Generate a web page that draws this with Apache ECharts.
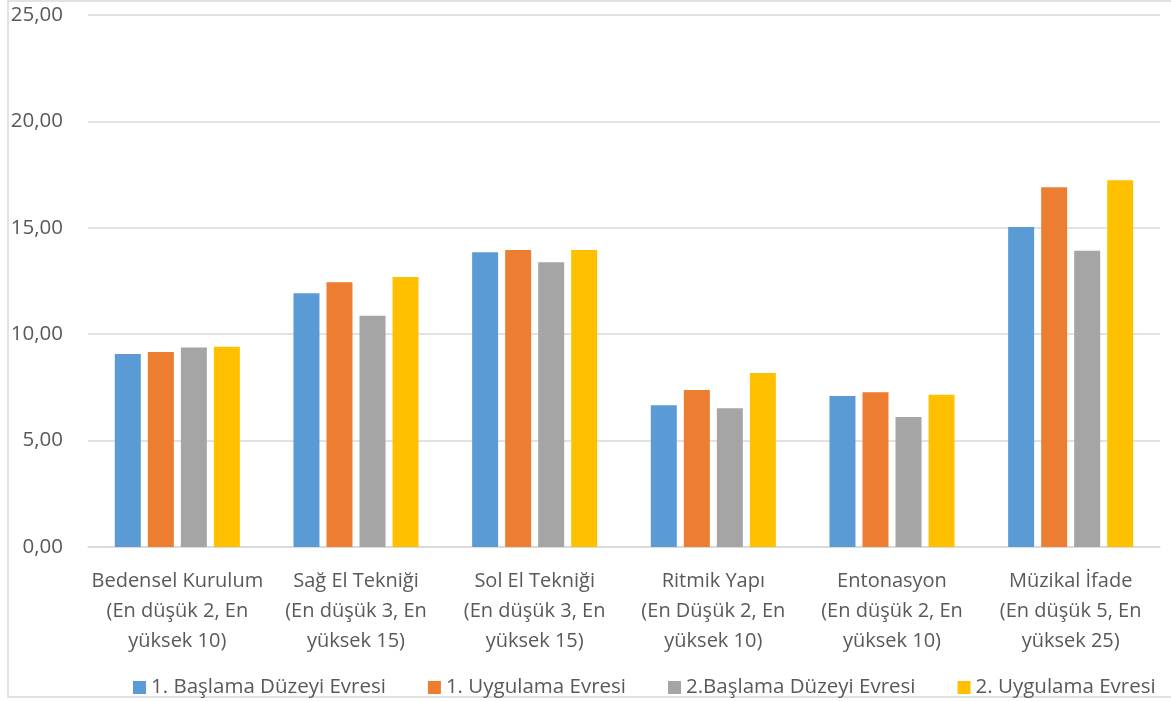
<!DOCTYPE html>
<html>
<head>
<meta charset="utf-8">
<script src="https://cdn.jsdelivr.net/npm/echarts@6/dist/echarts.min.js"></script>
<style>html,body{margin:0;padding:0;background:#fff}#c{width:1171px;height:701px}</style>
</head>
<body>
<div id="c"></div>
<script>
const categories = [
  "Bedensel Kurulum\n(En düşük 2, En\nyüksek 10)",
  "Sağ El Tekniği\n(En düşük 3, En\nyüksek 15)",
  "Sol El Tekniği\n(En düşük 3, En\nyüksek 15)",
  "Ritmik Yapı\n(En Düşük 2, En\nyüksek 10)",
  "Entonasyon\n(En düşük 2, En\nyüksek 10)",
  "Müzikal İfade\n(En düşük 5, En\nyüksek 25)"
];
const seriesNames = ["1. Başlama Düzeyi Evresi", "1. Uygulama Evresi", "2.Başlama Düzeyi Evresi", "2. Uygulama Evresi"];
const basla1 = [9.07, 11.92, 13.85, 6.66, 7.10, 15.04];
const uygula1 = [9.16, 12.44, 13.96, 7.38, 7.27, 16.90];
const basla2 = [9.37, 10.87, 13.38, 6.52, 6.11, 13.92];
const uygula2 = [9.41, 12.69, 13.96, 8.18, 7.16, 17.23];
const colors = ["#5B9BD5", "#ED7D31", "#A5A5A5", "#FFC000"];
const FONT = "Open Sans";

const chart = echarts.init(document.getElementById('c'), null, {renderer: 'canvas'});
const dataArr = [basla1, uygula1, basla2, uygula2];
chart.setOption({
  animation: false,
  color: colors,
  textStyle: {fontFamily: FONT},
  grid: {left: 88, right: 11, top: 15, bottom: 154, containLabel: false},
  graphic: [{
    type: 'rect', shape: {x: 8, y: 1, width: 1200, height: 696},
    style: {fill: 'none', stroke: '#D9D9D9', lineWidth: 1.5}, silent: true, z: -1
  }],
  legend: {
    top: 677, left: 133, width: 1036, padding: 0,
    itemWidth: 13, itemHeight: 13, itemGap: 42,
    icon: 'rect',
    textStyle: {color: '#595959', fontSize: 20.5, fontFamily: FONT},
    data: seriesNames
  },
  xAxis: {
    type: 'category', data: categories,
    axisLine: {lineStyle: {color: '#D9D9D9', width: 1.5}},
    axisTick: {show: false},
    axisLabel: {color: '#595959', fontSize: 20, lineHeight: 30, margin: 19, interval: 0, fontFamily: FONT}
  },
  yAxis: {
    type: 'value', min: 0, max: 25, interval: 5,
    axisLine: {show: false}, axisTick: {show: false},
    splitLine: {lineStyle: {color: '#D9D9D9', width: 1.5}},
    axisLabel: {color: '#595959', fontSize: 20.5, margin: 25, fontFamily: FONT,
      formatter: v => v.toFixed(2).replace('.', ',')}
  },
  series: seriesNames.map((n, i) => ({
    name: n, type: 'bar', data: dataArr[i],
    barWidth: 26, barGap: '27%',
    itemStyle: {color: colors[i]}
  }))
});
</script>
</body>
</html>
